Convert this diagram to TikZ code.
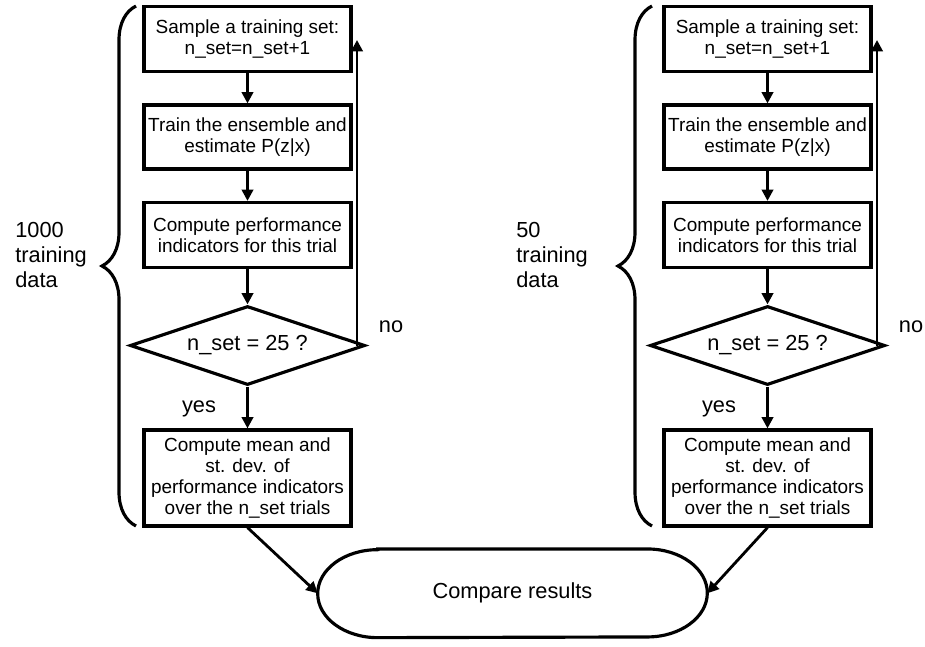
\documentclass[tikz,border=0pt]{standalone}
\usepackage{fontspec}
\setmainfont{Liberation Sans}
\usetikzlibrary{shapes.geometric,arrows.meta,decorations.pathreplacing}

\tikzset{
  box/.style={draw,line width=1.8pt,minimum width=4.14cm,minimum height=1.3cm,
    align=center,inner sep=1pt,font=\fontsize{10.8}{12}\selectfont},
  test/.style={draw,diamond,aspect=3,line width=1.8pt,minimum width=4.7cm,
    minimum height=1.58cm,inner sep=0pt,font=\fontsize{12.4}{14}\selectfont},
  lbl/.style={inner sep=0pt,font=\fontsize{12.4}{14}\selectfont},
  arr/.style={line width=1.6pt,-{Triangle[length=6.5pt,width=6.5pt]}},
  curly/.style={line width=1.8pt,decorate,decoration={brace,amplitude=0.68cm}}
}

\begin{document}
\begin{tikzpicture}[x=0.02cm,y=-0.02cm]
\useasboundingbox (0,0) rectangle (925,646);

% left column: 1000 training data
\node[box] (s1) at (247.5,39) {Sample a training set:\\n\_set=n\_set+1};
\node[box,minimum height=1.28cm] (t1) at (247.5,137) {Train the ensemble and\\estimate P(z|x)};
\node[box] (c1) at (247.5,235) {Compute performance\\indicators for this trial};
\node[test] (d1) at (247.5,345.5) {n\_set = 25 ?};
\node[box,minimum height=1.92cm] (m1) at (247.5,478) {Compute mean and\\st. dev. of\\performance indicators\\over the n\_set trials};
\coordinate (f1) at (357,40); %end of the loop arrow

\draw[arr] (s1) -- (t1);
\draw[arr] (t1) -- (c1);
\draw[arr] (c1) -- (d1);
\draw[arr] (d1) -- (m1);
\draw[arr] (d1.east -| f1) -- (f1); %no
\node[lbl] (n1) at (391,327) {no};
\node[lbl] (y1) at (199,409) {yes};

\draw[curly] (136,526) -- (136,6);
\node[lbl,anchor=west,align=left] (l1) at (15,255) {1000\\training\\data};

% right column: 50 training data
\node[box] (s2) at (767.5,39) {Sample a training set:\\n\_set=n\_set+1};
\node[box,minimum height=1.28cm] (t2) at (767.5,137) {Train the ensemble and\\estimate P(z|x)};
\node[box] (c2) at (767.5,235) {Compute performance\\indicators for this trial};
\node[test] (d2) at (767.5,345.5) {n\_set = 25 ?};
\node[box,minimum height=1.92cm] (m2) at (767.5,478) {Compute mean and\\st. dev. of\\performance indicators\\over the n\_set trials};
\coordinate (f2) at (877,40);

\draw[arr] (s2) -- (t2);
\draw[arr] (t2) -- (c2);
\draw[arr] (c2) -- (d2);
\draw[arr] (d2) -- (m2);
\draw[arr] (d2.east -| f2) -- (f2);
\node[lbl] (n2) at (911,327) {no};
\node[lbl] (y2) at (719,409) {yes};

\draw[curly] (652,526) -- (652,6);
\node[lbl,anchor=west,align=left] (l2) at (516,255) {50\\training\\data};

% compare
\node[lbl,minimum width=7.78cm,minimum height=1.76cm] (cr) at (512.5,593.3) {Compare results};
\draw[line width=1.8pt] ([xshift=1.2cm]cr.north west) -- ([xshift=-1.2cm]cr.north east)
  arc[start angle=90,end angle=-90,x radius=1.2cm,y radius=0.88cm]
  -- ([xshift=1.2cm]cr.south west)
  arc[start angle=270,end angle=90,x radius=1.2cm,y radius=0.88cm] -- cycle;

\draw[arr] (m1.south) -- (cr.west);
\draw[arr] (m2.south) -- (cr.east);

\end{tikzpicture}
\end{document}
